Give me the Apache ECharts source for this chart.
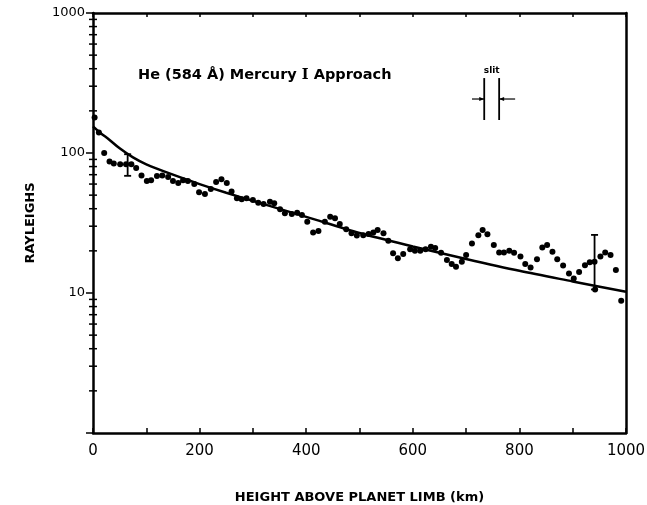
<!DOCTYPE html>
<html>
<head>
<meta charset="utf-8">
<script src="https://cdn.jsdelivr.net/npm/echarts@6/dist/echarts.min.js"></script>
<style>
  html, body { margin: 0; padding: 0; background: #fff; }
  #chart { width: 647px; height: 505px; }
</style>
</head>
<body>
<div id="chart"></div>
<script>
// Observed He 584 Å brightness versus height above the limb
const heightKm = [3, 11, 21, 31, 39, 51, 62, 72, 81, 91, 101, 109, 120, 130, 141, 150, 160, 169, 178, 190,
  199, 210, 221, 231, 241, 251, 260, 270, 279, 288, 300, 310, 320, 332, 340, 351, 360, 373, 383, 392,
  402, 413, 423, 435, 445, 454, 463, 475, 485, 495, 507, 517, 526, 534, 545, 554, 563, 572, 582, 595,
  604, 614, 624, 634, 642, 653, 664, 673, 681, 692, 700, 711, 723, 731, 740, 752, 762, 771, 781, 790,
  802, 811, 821, 833, 843, 852, 862, 871, 882, 893, 902, 912, 923, 932, 941, 942, 952, 961, 971, 981, 991];
const rayleighs = [179, 140, 100, 87, 84, 83, 83, 83, 78, 69, 63, 64, 68.5, 69, 67.4, 63, 61, 64, 63, 60,
  52.4, 51, 55.3, 62, 65, 61, 53, 47.5, 46.7, 47.5, 46.2, 44.2, 43.2, 44.9, 43.7, 39.6, 37.1, 36.7, 37.5, 36.1,
  32.3, 27, 27.7, 32.3, 35.1, 34.2, 31.1, 28.5, 26.7, 25.7, 25.9, 26.4, 27, 28.2, 26.7, 23.6, 19.2, 17.7, 19, 20.5,
  20, 20, 20.5, 21.4, 21, 19.4, 17.2, 16.1, 15.4, 16.7, 18.7, 22.6, 25.9, 28.2, 26.3, 22, 19.5, 19.5, 20, 19.4,
  18.2, 16.1, 15.2, 17.4, 21.1, 22, 19.7, 17.4, 15.7, 13.8, 12.7, 14.1, 15.8, 16.6, 16.7, 10.6, 18.2, 19.5, 18.7, 14.6, 8.8];

// Model curve
const fitKm = [0, 15, 30, 50, 75, 100, 150, 200, 250, 300, 400, 500, 600, 700, 800, 900, 1000];
const fitR  = [155, 138, 125, 108, 93, 83, 70, 60, 52, 45.5, 35, 26.8, 21.5, 17.5, 14.4, 12.1, 10.2];

// Representative error bars: [height, low, high]
const errKm   = [65, 941];
const errLow  = [68.7, 10.6];
const errHigh = [98, 26];

// Axis ticks
const xLabelStep = 200;
const yLabelValues = [10, 100, 1000];
const yMinorTicks = [2, 3, 4, 5, 6, 7, 8, 9, 20, 30, 40, 50, 60, 70, 80, 90, 200, 300, 400, 500, 600, 700, 800, 900];

// Slit width annotation (data coordinates)
const slitEdges = [734, 762];
const slitSpan = [172, 343];
const slitArrowY = 243;
const slitArrowOuter = [711, 792];
const slitLabelPos = [748, 390];

const chart = echarts.init(document.getElementById('chart'), null, { renderer: 'canvas' });

const FONT = '"DejaVu Sans", "Noto Sans", sans-serif';

const option = {
  animation: false,
  backgroundColor: '#fff',
  title: {
    text: 'He (584 Å) Mercury {r|I} Approach',
    left: 133,
    top: 63,
    textStyle: {
      fontFamily: FONT,
      fontWeight: 'bold',
      fontSize: 14.5,
      color: '#000',
      rich: {
        r: { fontFamily: '"DejaVu Serif", "Liberation Serif", serif', fontWeight: 'bold', fontSize: 14.5, color: '#000' }
      }
    }
  },
  grid: { left: 93, right: 21, top: 13, bottom: 72, containLabel: false, outerBoundsMode: 'none' },
  xAxis: [{
    type: 'value', min: 0, max: 1000, interval: 100, position: 'bottom',
    axisLine: { show: true, onZero: false, lineStyle: { color: '#000', width: 2.5 } },
    axisTick: { show: true, inside: true, length: 5, lineStyle: { color: '#000', width: 1.5 } },
    axisLabel: {
      color: '#000', fontFamily: FONT, fontSize: 15, margin: 11,
      formatter: v => (v % xLabelStep === 0 ? String(v) : '')
    },
    splitLine: { show: false },
    name: 'HEIGHT ABOVE PLANET LIMB (km)',
    nameLocation: 'middle', nameGap: 58,
    nameTextStyle: { color: '#000', fontFamily: FONT, fontWeight: 'bold', fontSize: 13 }
  }, {
    type: 'value', min: 0, max: 1000, interval: 100, position: 'top',
    axisLine: { show: true, onZero: false, lineStyle: { color: '#000', width: 2.5 } },
    axisTick: { show: true, inside: true, length: 4, lineStyle: { color: '#000', width: 1.5 } },
    axisLabel: { show: false },
    splitLine: { show: false }
  }],
  yAxis: [{
    type: 'log', logBase: 10, min: 1, max: 1000, position: 'left',
    axisLine: { show: true, onZero: false, lineStyle: { color: '#000', width: 2.5 } },
    axisTick: { show: true, inside: false, length: 7, lineStyle: { color: '#000', width: 1.5 } },
    axisLabel: {
      color: '#000', fontFamily: FONT, fontSize: 13, margin: 8,
      formatter: v => (yLabelValues.indexOf(Math.round(v)) >= 0 ? String(Math.round(v)) : '')
    },
    splitLine: { show: false },
    minorTick: { show: false },
    name: 'RAYLEIGHS',
    nameLocation: 'middle', nameGap: 56, nameRotate: 90,
    nameTextStyle: { color: '#000', fontFamily: FONT, fontWeight: 'bold', fontSize: 13 }
  }, {
    type: 'log', logBase: 10, min: 1, max: 1000, position: 'right',
    axisLine: { show: true, onZero: false, lineStyle: { color: '#000', width: 2.5 } },
    axisTick: { show: false },
    axisLabel: { show: false },
    splitLine: { show: false }
  }],
  series: [{
    type: 'custom',
    name: 'minor ticks',
    clip: false,
    silent: true,
    xAxisIndex: 0, yAxisIndex: 0,
    data: yMinorTicks.map(v => [0, v]),
    renderItem: (params, api) => {
      const p = api.coord([api.value(0), api.value(1)]);
      return {
        type: 'line',
        shape: { x1: p[0] - 4, y1: p[1], x2: p[0] + 4, y2: p[1] },
        style: { stroke: '#000', lineWidth: 1.5 }
      };
    }
  }, {
    type: 'line',
    name: 'model',
    data: fitKm.map((x, i) => [x, fitR[i]]),
    smooth: 0.3,
    showSymbol: false,
    lineStyle: { color: '#000', width: 2.5, opacity: 1 },
    z: 3
  }, {
    type: 'scatter',
    name: 'observed',
    data: heightKm.map((x, i) => [x, rayleighs[i]]),
    symbol: 'circle',
    symbolSize: 6,
    itemStyle: { color: '#000', opacity: 1 },
    z: 4
  }, {
    type: 'custom',
    name: 'error bars',
    clip: false,
    data: errKm.map((x, i) => [x, errLow[i], errHigh[i]]),
    renderItem: (params, api) => {
      const lo = api.coord([api.value(0), api.value(1)]);
      const hi = api.coord([api.value(0), api.value(2)]);
      const cap = 3.5;
      const st = { stroke: '#000', lineWidth: 1.8 };
      return {
        type: 'group',
        children: [
          { type: 'line', shape: { x1: lo[0], y1: lo[1], x2: hi[0], y2: hi[1] }, style: st },
          { type: 'line', shape: { x1: hi[0] - cap, y1: hi[1], x2: hi[0] + cap, y2: hi[1] }, style: st },
          { type: 'line', shape: { x1: lo[0] - cap, y1: lo[1], x2: lo[0] + cap, y2: lo[1] }, style: st }
        ]
      };
    },
    z: 5
  }]
};

chart.setOption(option);

// Slit-width sketch drawn in data coordinates
function px(x, y) { return chart.convertToPixel({ xAxisIndex: 0, yAxisIndex: 0 }, [x, y]); }
const eL_top = px(slitEdges[0], slitSpan[1]), eL_bot = px(slitEdges[0], slitSpan[0]);
const eR_top = px(slitEdges[1], slitSpan[1]), eR_bot = px(slitEdges[1], slitSpan[0]);
const aL = px(slitArrowOuter[0], slitArrowY), aR = px(slitArrowOuter[1], slitArrowY);
const aY = aL[1];
const lab = px(slitLabelPos[0], slitLabelPos[1]);
const st = { stroke: '#000', lineWidth: 1.8 };
chart.setOption({
  graphic: [
    { type: 'line', shape: { x1: eL_top[0], y1: eL_top[1], x2: eL_bot[0], y2: eL_bot[1] }, style: st },
    { type: 'line', shape: { x1: eR_top[0], y1: eR_top[1], x2: eR_bot[0], y2: eR_bot[1] }, style: st },
    { type: 'line', shape: { x1: aL[0], y1: aY, x2: eL_top[0], y2: aY }, style: { stroke: '#000', lineWidth: 1.2 } },
    { type: 'line', shape: { x1: aR[0], y1: aY, x2: eR_top[0], y2: aY }, style: { stroke: '#000', lineWidth: 1.2 } },
    { type: 'polygon', shape: { points: [[eL_top[0], aY], [eL_top[0] - 5, aY - 2], [eL_top[0] - 5, aY + 2]] }, style: { fill: '#000' } },
    { type: 'polygon', shape: { points: [[eR_top[0], aY], [eR_top[0] + 5, aY - 2], [eR_top[0] + 5, aY + 2]] }, style: { fill: '#000' } },
    { type: 'text', x: lab[0], y: lab[1], style: { text: 'slit', fontFamily: FONT, fontWeight: 'bold', fontSize: 9, fill: '#000', align: 'center', verticalAlign: 'middle' } }
  ]
});
</script>
</body>
</html>
